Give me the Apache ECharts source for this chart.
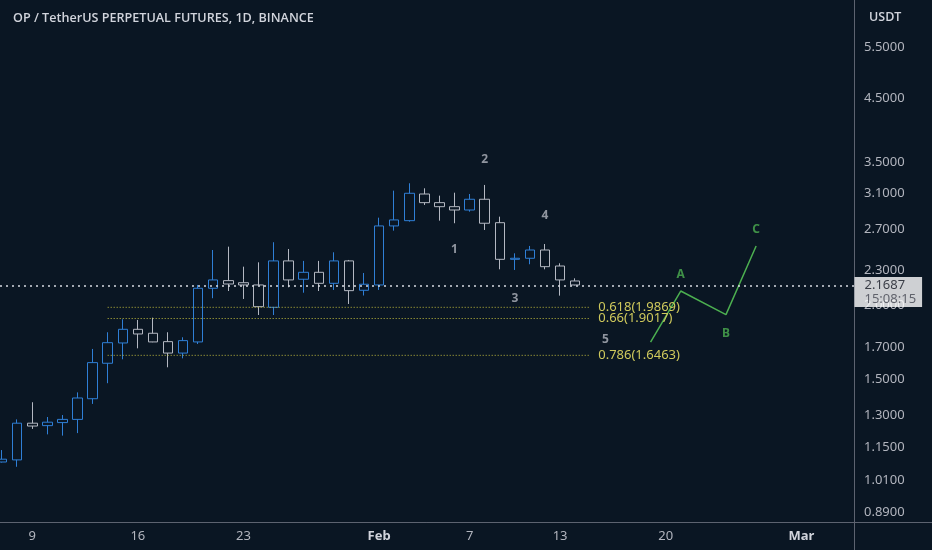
<!DOCTYPE html>
<html lang="en">
  <head>
    <meta charset="UTF-8" />
    <meta name="viewport" content="width=device-width, initial-scale=1.0" />
    <title>OP / TetherUS PERPETUAL FUTURES</title>
    <script src="https://cdn.jsdelivr.net/npm/echarts@6/dist/echarts.min.js"></script>
    <style>
      html, body { margin: 0; padding: 0; background: #0a1623; }
    </style>
  </head>
  <body>
    <div id="main" style="width: 932px; height: 550px"></div>
  </body>
</html>
<script>
  // daily candles, index 0 = Jan 7
  const opens = [1.084, 1.093, 1.262, 1.250, 1.265, 1.281, 1.389, 1.596, 1.728, 1.823, 1.795, 1.737, 1.661, 1.735, 2.141, 2.206, 2.188, 2.169, 1.987, 2.383, 2.218, 2.279, 2.183, 2.383, 2.124, 2.169, 2.733, 2.790, 3.097, 2.994, 2.947, 2.909, 3.034, 2.768, 2.398, 2.408, 2.487, 2.336, 2.203]
  const closes = [1.096, 1.262, 1.248, 1.267, 1.281, 1.393, 1.600, 1.730, 1.823, 1.790, 1.735, 1.661, 1.744, 2.141, 2.212, 2.177, 2.169, 1.992, 2.383, 2.212, 2.279, 2.183, 2.383, 2.121, 2.175, 2.733, 2.798, 3.106, 2.994, 2.947, 2.909, 3.034, 2.762, 2.398, 2.408, 2.487, 2.330, 2.212, 2.1687]
  const lows = [1.082, 1.064, 1.234, 1.208, 1.202, 1.214, 1.361, 1.476, 1.621, 1.692, 1.733, 1.571, 1.627, 1.721, 2.059, 2.118, 2.053, 1.928, 1.928, 2.149, 2.104, 2.118, 2.127, 2.013, 2.081, 2.127, 2.683, 2.779, 2.967, 2.790, 2.762, 2.890, 2.690, 2.306, 2.300, 2.352, 2.306, 2.080, 2.165]
  const highs = [1.136, 1.281, 1.370, 1.293, 1.303, 1.424, 1.688, 1.802, 1.896, 1.891, 1.908, 1.802, 1.767, 2.169, 2.487, 2.520, 2.330, 2.370, 2.564, 2.497, 2.383, 2.383, 2.465, 2.392, 2.273, 2.823, 3.138, 3.230, 3.167, 3.077, 3.113, 3.097, 3.209, 2.834, 2.455, 2.527, 2.546, 2.361, 2.226]

  const lastPrice = 2.1687
  const lastTime = '15:08:15'

  // x tick positions (day index) and their labels
  const xTickIdx = [2, 9, 16, 25, 31, 37, 44, 53]
  const xTickText = ['9', '16', '23', 'Feb', '7', '13', '20', 'Mar']
  const yTicks = [5.5, 4.5, 3.5, 3.1, 2.7, 2.3, 2.0, 1.7, 1.5, 1.3, 1.15, 1.01, 0.89]

  // elliott wave counts [text, day, price]
  const waveLabels = [['1', 30, 2.487], ['2', 32, 3.539], ['3', 34, 2.053], ['4', 36, 2.845], ['5', 40, 1.753]]
  const abcPath = [[43, 1.733], [45, 2.118], [48, 1.931], [50, 2.527]]
  const abcLabels = [['A', 45, 2.255], ['B', 48, 1.795], ['C', 50, 2.690]]

  // fib retracement levels [ratio, price]
  const fibLevels = [[0.618, 1.9869], [0.66, 1.9017], [0.786, 1.6463]]
  const fibStart = 7
  const fibEnd = 39

  const bg = '#0a1623'
  const ln = Math.log

  const candles = opens.map((o, i) => [i, ln(o), ln(closes[i]), ln(lows[i]), ln(highs[i])])

  const textMark = (items, color) => ({
    type: 'scatter',
    silent: true,
    symbolSize: 1,
    itemStyle: { color: 'transparent' },
    data: items.map((w) => ({ name: w[0], value: [w[1], ln(w[2])] })),
    label: {
      show: true,
      position: 'inside',
      formatter: '{b}',
      color: color,
      fontSize: 12,
      fontWeight: 'bold'
    }
  })

  const fibSeries = fibLevels.map((f) => ({
    type: 'line',
    silent: true,
    symbol: 'none',
    data: [[fibStart, ln(f[1])], [fibEnd, ln(f[1])]],
    lineStyle: { color: '#c2bd3e', type: [1, 2], width: 1 },
    endLabel: {
      show: true,
      formatter: f[0] + '(' + f[1].toFixed(4) + ')',
      color: '#cfc95c',
      fontSize: 13,
      distance: 8
    }
  }))

  const chartInstance = echarts.init(document.getElementById('main'))

  const option = {
    backgroundColor: bg,
    animation: false,
    textStyle: { fontFamily: 'Noto Sans' },
    title: [
      {
        text: 'OP / TetherUS PERPETUAL FUTURES, 1D, BINANCE',
        left: 8,
        top: 7,
        textStyle: { color: '#d1d4dc', fontSize: 12.6, fontWeight: 600, fontFamily: 'Open Sans' }
      },
      {
        text: 'USDT',
        left: 864,
        top: 6,
        textStyle: { color: '#d1d4dc', fontSize: 12.5, fontWeight: 600, fontFamily: 'Open Sans' }
      }
    ],
    grid: { left: 0, right: 78, top: 0, bottom: 28, outerBoundsMode: 'none' },
    xAxis: {
      type: 'value',
      min: -0.14,
      max: 56.49,
      splitLine: { show: false },
      axisLine: { show: true, onZero: false, lineStyle: { color: '#5d6370' } },
      axisTick: { show: false },
      axisLabel: {
        customValues: xTickIdx,
        color: '#b2b5be',
        fontSize: 13,
        margin: 8,
        formatter: (v) => {
          const t = xTickText[xTickIdx.indexOf(Math.round(v))]
          return t === 'Feb' || t === 'Mar' ? '{b|' + t + '}' : t
        },
        rich: { b: { fontWeight: 'bold', color: '#d1d4dc', fontSize: 13 } }
      }
    },
    yAxis: {
      type: 'value',
      position: 'right',
      min: ln(0.857),
      max: ln(6.622),
      splitLine: { show: false },
      axisLine: { show: true, onZero: false, lineStyle: { color: '#5d6370' } },
      axisTick: { show: false },
      axisLabel: {
        customValues: yTicks.map(ln),
        color: '#b2b5be',
        fontSize: 13,
        margin: 10,
        formatter: (v) => Math.exp(v).toFixed(4)
      }
    },
    graphic: [
      { type: 'line', shape: { x1: 854.5, y1: 522, x2: 854.5, y2: 550 }, style: { stroke: '#5d6370' } },
      { type: 'line', shape: { x1: 854, y1: 522.5, x2: 932, y2: 522.5 }, style: { stroke: '#5d6370' } }
    ],
    series: [
      ...fibSeries,
      {
        type: 'candlestick',
        data: candles,
        encode: { x: 0, y: [1, 2, 3, 4] },
        barWidth: 10,
        itemStyle: {
          color: bg,
          color0: bg,
          borderColor: '#2f7fd6',
          borderColor0: '#b4b8c2',
          borderWidth: 1
        },
        markLine: {
          silent: true,
          symbol: 'none',
          label: { show: false },
          lineStyle: { color: '#d8dbe2', type: [2, 4], width: 1.5 },
          data: [{ yAxis: ln(lastPrice) }]
        }
      },
      {
        type: 'line',
        silent: true,
        symbol: 'none',
        data: abcPath.map((p) => [p[0], ln(p[1])]),
        lineStyle: { color: '#4caf50', width: 1.5 }
      },
      textMark(waveLabels, '#b2b5be'),
      textMark(abcLabels, '#4caf50'),
      {
        type: 'scatter',
        silent: true,
        clip: false,
        symbolSize: 1,
        itemStyle: { color: 'transparent' },
        z: 10,
        data: [[56.49, ln(lastPrice)]],
        label: {
          show: true,
          position: 'right',
          distance: 0,
          offset: [0, 7],
          formatter: '{p|' + lastPrice.toFixed(4) + '}\n{t|' + lastTime + '}',
          backgroundColor: '#ffffff',
          padding: [1, 6, 1, 10],
          rich: {
            p: { color: '#131722', fontSize: 13, lineHeight: 14 },
            t: { color: '#434651', fontSize: 13, lineHeight: 14 }
          }
        }
      }
    ]
  }

  chartInstance.setOption(option)

  window.addEventListener('resize', () => {
    chartInstance.resize()
  })
</script>
